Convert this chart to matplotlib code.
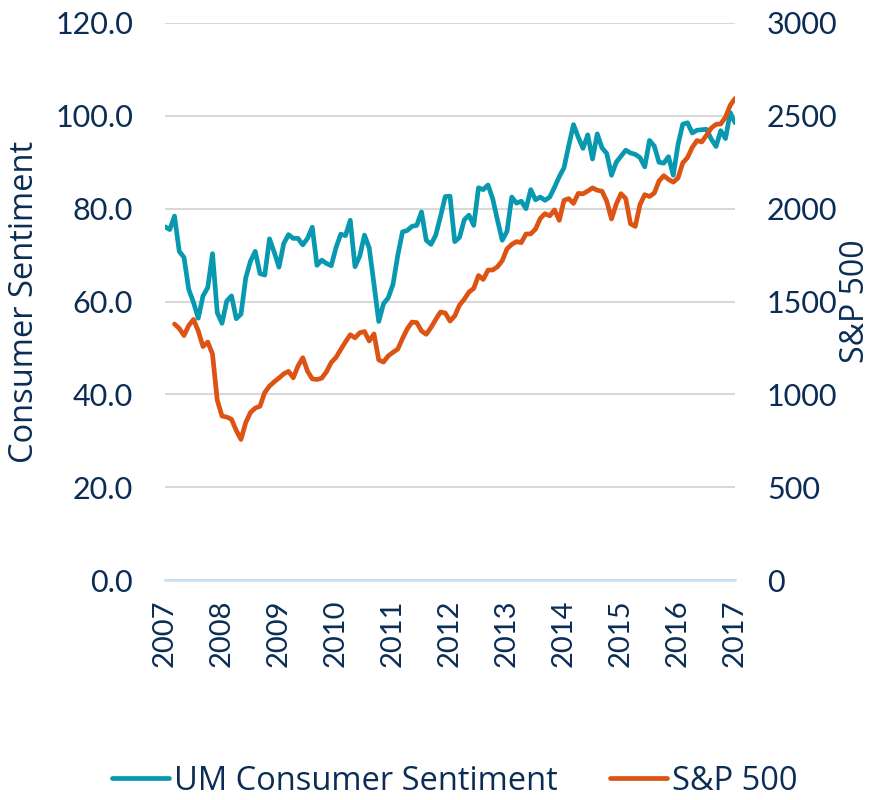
import matplotlib
matplotlib.use("Agg")
import matplotlib.pyplot as plt
import numpy as np

plt.rcParams["font.family"] = ["Lato", "DejaVu Sans"]

TEXT = "#0b2d55"
TEAL = "#0899b0"
ORANGE = "#dc5314"

# monthly readings, first point is the "2007" tick, one point per month
sentiment = [
    76.1, 75.5,
    78.4, 70.8, 69.5, 62.6, 59.8, 56.4, 61.2, 63.0, 70.3, 57.6, 55.3, 60.1,
    61.2, 56.3, 57.3, 65.1, 68.7, 70.8, 66.0, 65.7, 73.5, 70.6, 67.4, 72.5,
    74.4, 73.6, 73.6, 72.2, 73.6, 76.0, 67.8, 68.9, 68.2, 67.7, 71.6, 74.5,
    74.2, 77.5, 67.5, 69.8, 74.3, 71.5, 63.7, 55.7, 59.5, 60.8, 63.7, 69.9,
    75.0, 75.3, 76.2, 76.4, 79.3, 73.2, 72.3, 74.3, 78.3, 82.6, 82.7, 72.9,
    73.8, 77.6, 78.6, 76.4, 84.5, 84.1, 85.1, 82.1, 77.5, 73.2, 75.1, 82.5,
    81.2, 81.6, 80.0, 84.1, 81.9, 82.5, 81.8, 82.5, 84.6, 86.9, 88.8, 93.6,
    98.1, 95.4, 93.0, 95.9, 90.7, 96.1, 93.1, 91.9, 87.2, 90.0, 91.3, 92.6,
    92.0, 91.7, 91.0, 89.0, 94.7, 93.5, 90.0, 89.8, 91.2, 87.2, 93.8, 98.2,
    98.5, 96.3, 96.9, 97.0, 97.1, 95.0, 93.4, 96.8, 95.1, 100.7, 98.5,
]

sp500 = [
    np.nan, np.nan,
    1378.6, 1354.9, 1316.9, 1370.5, 1403.2, 1341.3, 1257.3, 1281.5, 1217.0, 968.8, 883.0, 877.6,
    865.6, 805.2, 757.1, 848.2, 902.4, 926.1, 935.8, 1009.7, 1044.6, 1067.7, 1088.1, 1110.4,
    1123.6, 1089.2, 1152.0, 1197.3, 1125.1, 1083.4, 1079.8, 1087.3, 1122.1, 1171.6, 1198.9, 1241.5,
    1282.6, 1321.1, 1304.5, 1331.5, 1338.3, 1287.3, 1325.2, 1185.3, 1173.9, 1207.2, 1226.4, 1243.3,
    1300.6, 1352.5, 1389.2, 1386.4, 1341.3, 1323.5, 1359.8, 1403.4, 1443.4, 1437.8, 1394.5, 1422.3,
    1480.4, 1512.3, 1550.8, 1570.7, 1639.8, 1618.8, 1668.7, 1670.1, 1687.2, 1720.0, 1783.5, 1807.8,
    1822.4, 1817.0, 1863.5, 1864.3, 1889.8, 1947.1, 1973.1, 1961.5, 1993.2, 1937.3, 2044.6, 2054.3,
    2028.2, 2082.2, 2080.0, 2094.9, 2111.9, 2099.3, 2094.1, 2039.9, 1944.4, 2024.8, 2080.6, 2054.1,
    1918.6, 1904.4, 2022.0, 2075.5, 2065.6, 2083.9, 2148.9, 2177.5, 2157.7, 2143.0, 2165.0, 2246.6,
    2275.1, 2329.9, 2366.8, 2359.3, 2395.3, 2434.0, 2454.1, 2456.2, 2492.8, 2557.0, 2593.6,
]

year_labels = [str(y) for y in range(2007, 2018)]
left_ticks = [0, 20, 40, 60, 80, 100, 120]
right_ticks = [0, 500, 1000, 1500, 2000, 2500, 3000]

months = np.arange(len(sentiment))
LABEL_FONT = ["Open Sans", "DejaVu Sans"]

fig = plt.figure(figsize=(8.75, 8), dpi=100)
ax = fig.add_axes([165 / 875, 1 - 580 / 800, 570 / 875, 557 / 800])
ax2 = ax.twinx()

ax.plot(months, sentiment, color=TEAL, lw=3.4, solid_capstyle="round",
        solid_joinstyle="round", label="UM Consumer Sentiment", zorder=3)
ax2.plot(months, sp500, color=ORANGE, lw=3.4, solid_capstyle="round",
         solid_joinstyle="round", label="S&P 500", zorder=3)

ax.set_xlim(0, 120)
ax.set_ylim(0, 120)
ax2.set_ylim(0, 3000)
ax.set_xticks(np.arange(0, 121, 12))
ax.set_xticklabels(year_labels, rotation=90)
ax.set_yticks(left_ticks)
ax.set_yticklabels([f"{v:.1f}" for v in left_ticks])
ax2.set_yticks(right_ticks)
ax2.set_yticklabels([str(v) for v in right_ticks])

ax.grid(axis="y", color="#d9d9d9", lw=1.5)
ax.set_axisbelow(True)
for a in (ax, ax2):
    for s in ("top", "left", "right", "bottom"):
        a.spines[s].set_visible(False)
ax.spines["bottom"].set_visible(True)
ax.spines["bottom"].set_color("#c5e0f7")
ax.spines["bottom"].set_linewidth(1.8)

ax.tick_params(axis="x", length=0, labelsize=21, labelcolor=TEXT, pad=14)
ax.tick_params(axis="y", length=0, labelsize=22, labelcolor=TEXT, pad=23)
ax2.tick_params(axis="y", length=0, labelsize=22, labelcolor=TEXT, pad=23)

ax.set_ylabel("Consumer Sentiment", fontsize=23.5, color=TEXT, labelpad=10,
              family=LABEL_FONT)
ax2.set_ylabel("S&P 500", fontsize=23, color=TEXT, labelpad=1,
               family=LABEL_FONT)

h1, l1 = ax.get_legend_handles_labels()
h2, l2 = ax2.get_legend_handles_labels()
fig.legend(h1 + h2, l1 + l2, loc="center", bbox_to_anchor=(0.52, 1 - 781 / 800),
           ncol=2, frameon=False, labelcolor=TEXT,
           prop={"family": LABEL_FONT, "size": 23.5},
           handlelength=1.75, handletextpad=0.15, columnspacing=1.6)

fig.savefig("out.png", dpi=100)
